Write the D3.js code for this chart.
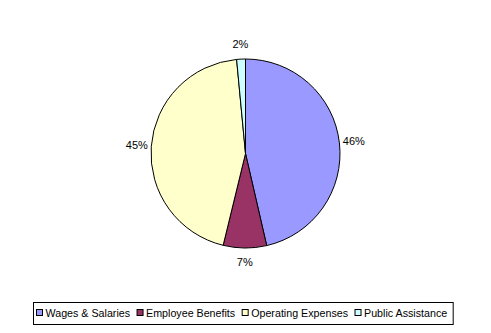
<!DOCTYPE html>
<html>
<head>
<meta charset="utf-8">
<script src="https://cdn.jsdelivr.net/npm/d3@7"></script>
<style>
  html, body { margin: 0; padding: 0; background: #fff; }
  svg { display: block; font-family: "Liberation Sans", Arial, sans-serif; }
</style>
</head>
<body>
<svg id="chart" width="491" height="333"></svg>
<script>
// Budget shares by spending category
const categories = ["Wages & Salaries", "Employee Benefits", "Operating Expenses", "Public Assistance"];
const values = [46.4, 7.4, 44.7, 1.5];
const colors = ["#9999FF", "#993366", "#FFFFCC", "#CCFFFF"];

const svg = d3.select("#chart");
const cx = 245.5, cy = 153.5, radius = 94.5;

const data = categories.map((c, i) => ({ name: c, value: values[i], color: colors[i] }));
const total = d3.sum(values);

const pie = d3.pie().value(d => d.value).sort(null);
const arcs = pie(data);
const arc = d3.arc().innerRadius(0).outerRadius(radius);

const g = svg.append("g").attr("transform", `translate(${cx},${cy})`);

g.selectAll("path.slice")
  .data(arcs)
  .join("path")
  .attr("class", "slice")
  .attr("d", arc)
  .attr("fill", d => d.data.color)
  .attr("stroke", "#000")
  .attr("stroke-width", 1);

// Percentage labels placed just outside the rim
const labelArc = d3.arc().innerRadius(109).outerRadius(109);
g.selectAll("text.pct")
  .data(arcs)
  .join("text")
  .attr("class", "pct")
  .attr("transform", d => `translate(${labelArc.centroid(d)})`)
  .attr("text-anchor", "middle")
  .attr("dy", "0.35em")
  .attr("font-size", "11px")
  .attr("fill", "#000")
  .text(d => Math.round(d.data.value / total * 100) + "%");

// Legend box along the bottom
const legend = svg.append("g");
const legendBox = legend.append("rect")
  .attr("x", 33.5).attr("y", 302.5)
  .attr("height", 22)
  .attr("fill", "#fff")
  .attr("stroke", "#000")
  .attr("stroke-width", 1);

let x = 36.5;
const items = legend.selectAll("g.item").data(data).join("g").attr("class", "item");
items.each(function(d) {
  const it = d3.select(this);
  it.append("rect")
    .attr("x", x).attr("y", 309.5)
    .attr("width", 6).attr("height", 6)
    .attr("fill", d.color)
    .attr("stroke", "#000")
    .attr("stroke-width", 1);
  const t = it.append("text")
    .attr("x", x + 9)
    .attr("y", 317)
    .attr("font-size", "10.7px")
    .attr("fill", "#000")
    .text(d.name);
  x = x + 9 + t.node().getComputedTextLength() + 7;
});
legendBox.attr("width", x - 33.5 - 1);
</script>
</body>
</html>
